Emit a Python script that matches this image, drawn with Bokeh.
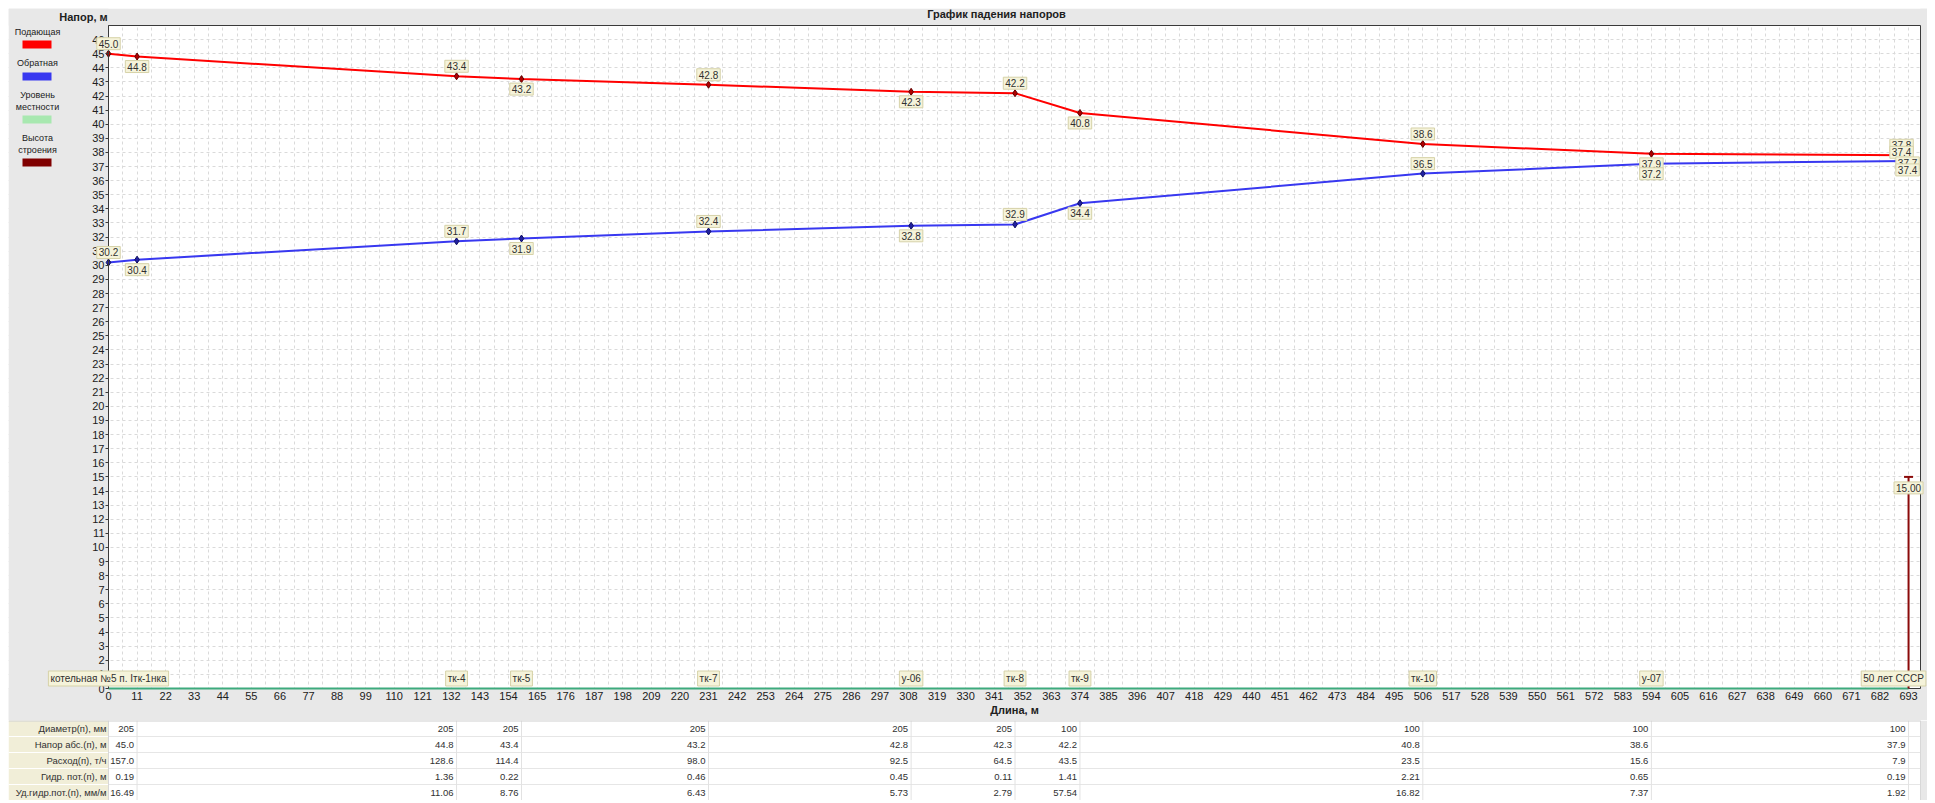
from bokeh.plotting import figure
from bokeh.models import Range1d, FixedTicker, Label, BoxAnnotation, Spacer
from bokeh.layouts import column, row
from bokeh.embed import file_html
from bokeh.resources import INLINE
from bokeh.core.properties import value

# ---------------- data ----------------
node_dist = [0, 11, 134, 159, 231, 309, 349, 374, 506, 594, 693]
node_names = ["котельная №5 п. Iтк-1нка", "", "тк-4", "тк-5", "тк-7", "у-06",
              "тк-8", "тк-9", "тк-10", "у-07", "50 лет СССР"]
supply_head = [45.0, 44.8, 43.4, 43.2, 42.8, 42.3, 42.2, 40.8, 38.6, 37.9, 37.8]
return_head = [30.2, 30.4, 31.7, 31.9, 32.4, 32.8, 32.9, 34.4, 36.5, 37.2, 37.4]
ground_level = [0.0, 0.0, 0.0, 0.0, 0.0, 0.0, 0.0, 0.0, 0.0, 0.0, 0.0]
supply_end_texts = ["37.8", "37.4"]
return_end_texts = ["37.7", "37.4"]
building_x = [693]
building_height = [15.0]

x_ticks = list(range(0, 694, 11))
y_ticks = list(range(0, 47))

table_rows = ["Диаметр(п), мм", "Напор абс.(п), м", "Расход(п), т/ч",
              "Гидр. пот.(п), м", "Уд.гидр.пот.(п), мм/м"]
seg_end = [11, 134, 159, 231, 309, 349, 374, 506, 594, 693]
diameter = [205, 205, 205, 205, 205, 205, 100, 100, 100, 100]
head_abs = [45.0, 44.8, 43.4, 43.2, 42.8, 42.3, 42.2, 40.8, 38.6, 37.9]
flow = [157.0, 128.6, 114.4, 98.0, 92.5, 64.5, 43.5, 23.5, 15.6, 7.9]
head_loss = [0.19, 1.36, 0.22, 0.46, 0.45, 0.11, 1.41, 2.21, 0.65, 0.19]
spec_loss = [16.49, 11.06, 8.76, 6.43, 5.73, 2.79, 57.54, 16.82, 7.37, 1.92]

# ---------------- style ----------------
FONT = "Liberation Sans"
BG = "#E8E8E8"
RED = "#FF0000"
BLUE = "#3838F0"
GREEN_LEG = "#A8E8B0"
GROUND = "#3DAA7D"
BUILD = "#8B0A0A"
BOX_FILL = "#F5F3DA"
BOX_LINE = "#D6D2A8"
TXT = "#303030"

# ---------------- geometry (page pixels) ----------------
x_end = 697.6
y_top = 47.0
plot_left_px, plot_right_px, plot_top_px, plot_bottom_px = 108, 1920, 25, 688
fig_left_px, fig_right_px, fig_top_px, fig_bottom_px = 8, 1927, 8, 720
px_per_m = (plot_right_px - plot_left_px) / x_end
x_min = -(plot_left_px - fig_left_px) / px_per_m
x_max = x_end + (fig_right_px - plot_right_px) / px_per_m
px_per_y = (plot_bottom_px - plot_top_px) / y_top
y_max = y_top + (plot_top_px - fig_top_px) / px_per_y
y_min = -(fig_bottom_px - plot_bottom_px) / px_per_y
fig_w = fig_right_px - fig_left_px
fig_h = fig_bottom_px - fig_top_px
table_h = 80

p = figure(width=fig_w, height=fig_h, x_range=Range1d(x_min, x_max), y_range=Range1d(y_min, y_max),
           output_backend="svg", toolbar_location=None,
           min_border_left=0, min_border_right=0, min_border_top=0, min_border_bottom=0)
p.background_fill_color = "white"
p.border_fill_color = BG
p.outline_line_color = None

p.xaxis.ticker = FixedTicker(ticks=x_ticks)
p.yaxis.ticker = FixedTicker(ticks=y_ticks)
p.yaxis.fixed_location = 0
p.xaxis.fixed_location = 0
p.yaxis.bounds = (0, y_top)
p.xaxis.bounds = (0, x_end)
for ax in (p.xaxis, p.yaxis):
    ax.minor_tick_line_color = None
    ax.major_label_text_font = FONT
    ax.major_label_text_font_size = "11px"
    ax.major_label_text_color = "#202020"
    ax.major_tick_line_color = "#3A3A3A"
    ax.major_tick_in = 0
p.xaxis.axis_line_color = None
p.yaxis.axis_line_color = "#3A3A3A"
p.xaxis.major_tick_out = 0
p.xaxis.major_label_standoff = 3
p.xaxis.axis_label = "Длина, м"
p.xaxis.axis_label_text_font = FONT
p.xaxis.axis_label_text_font_size = "11px"
p.xaxis.axis_label_text_font_style = "bold"
p.xaxis.axis_label_text_color = "#202020"
p.xaxis.axis_label_standoff = 1
p.yaxis.major_tick_out = 3
p.yaxis.major_label_standoff = 1

p.xgrid.ticker = FixedTicker(ticks=[i * 5.5 for i in range(0, 127)])
p.ygrid.ticker = FixedTicker(ticks=y_ticks)
p.grid.grid_line_color = "#DADADA"
p.grid.grid_line_dash = "3 3"
p.grid.grid_line_width = 1

# gray surroundings of the plot area (inside the frame)
p.quad(left=[x_min, x_min, x_end, x_min], right=[0, x_max, x_max, x_max],
       bottom=[y_min, y_top, y_min, y_min], top=[y_max, y_max, y_max, 0],
       fill_color=BG, line_color=None)
p.quad(left=[0], right=[x_end], bottom=[0], top=[y_top], fill_color=None,
       line_color="#3A3A3A", line_width=1)

# series
p.line(node_dist, ground_level, line_color=GROUND, line_width=2)
p.line(node_dist, supply_head, line_color=RED, line_width=2)
p.line(node_dist, return_head, line_color=BLUE, line_width=2)
p.scatter(node_dist, supply_head, marker="diamond", size=7, fill_color="#B00000", line_color="#600000")
p.scatter(node_dist, return_head, marker="diamond", size=7, fill_color="#2020A0", line_color="#101060")
p.segment(x0=building_x, y0=[0] * len(building_x), x1=building_x, y1=building_height,
          line_color=BUILD, line_width=2)
p.scatter(building_x, building_height, marker="dash", size=9, line_color=BUILD, line_width=2)


def box_label(x, y, text, xo=0, yo=0):
    p.add_layout(Label(x=x, y=y, text=text, x_offset=xo, y_offset=yo,
                       text_align="center", text_baseline="middle",
                       text_font=FONT, text_font_size="10px", text_color=TXT,
                       background_fill_color=BOX_FILL, background_fill_alpha=1.0,
                       border_line_color=BOX_LINE, padding=2))


n = len(node_dist)
for i in range(n - 1):
    off = 10 if i % 2 == 0 else -10
    box_label(node_dist[i], supply_head[i], f"{supply_head[i]:.1f}", 0, off)
    box_label(node_dist[i], return_head[i], f"{return_head[i]:.1f}", 0, off)
box_label(node_dist[-1], supply_head[-1], supply_end_texts[0], -7, 10)
box_label(node_dist[-1], supply_head[-1], supply_end_texts[1], -7, 3)
box_label(node_dist[-1], return_head[-1], return_end_texts[0], -1, -2)
box_label(node_dist[-1], return_head[-1], return_end_texts[1], -1, -9)

for i in range(n):
    if node_names[i]:
        xo = -15 if i == n - 1 else 0
        box_label(node_dist[i], ground_level[i], node_names[i], xo, 10)

for bx, bh in zip(building_x, building_height):
    box_label(bx, bh, f"{bh:.2f}", 0, -11)


# texts in the gray bands (screen units relative to the frame)
def sx(px):
    return px - fig_left_px


def sy(py):
    return fig_bottom_px - py


def plain_label(px, py, text, size="9px", bold=False, align="center"):
    p.add_layout(Label(x=sx(px), y=sy(py), x_units="screen", y_units="screen", text=text,
                       text_align=align, text_baseline="middle", text_font=FONT,
                       text_font_size=size, text_color="#202020",
                       text_font_style="bold" if bold else "normal"))


plain_label(996, 13, "График падения напоров", "11px", True)
plain_label(83, 16, "Напор, м", "11px", True)

legend_items = [
    (["Подающая"], [31], (40, 48), RED),
    (["Обратная"], [62], (72, 80), BLUE),
    (["Уровень", "местности"], [94, 106], (115, 123), GREEN_LEG),
    (["Высота", "строения"], [137, 149], (158, 166), "#800000"),
]
for texts, ys, (top_px, bot_px), col in legend_items:
    for tx, ty in zip(texts, ys):
        plain_label(37, ty, tx, "9px")
    p.add_layout(BoxAnnotation(left=sx(22), right=sx(51), top=sy(top_px), bottom=sy(bot_px),
                               left_units="screen", right_units="screen",
                               top_units="screen", bottom_units="screen",
                               fill_color=col, fill_alpha=1.0, line_color=None))

# ---------------- table ----------------
nrows = len(table_rows)
t = figure(width=fig_w, height=table_h, x_range=Range1d(x_min, x_max), y_range=Range1d(0, nrows),
           output_backend="svg", toolbar_location=None, x_axis_type=None, y_axis_type=None,
           min_border_left=0, min_border_right=0, min_border_top=0, min_border_bottom=0)
t.background_fill_color = "white"
t.border_fill_color = BG
t.outline_line_color = None
t.grid.visible = False

t.quad(left=[x_min], right=[0], bottom=[0], top=[nrows], fill_color="#F1EED8", line_color=None)
t.quad(left=[x_end], right=[x_max], bottom=[0], top=[nrows], fill_color=BG, line_color=None)
row_y = [nrows - 0.5 - i for i in range(nrows)]
t.segment(x0=[x_min] * (nrows - 1), y0=list(range(1, nrows)), x1=[0] * (nrows - 1),
          y1=list(range(1, nrows)), line_color="#FFFFFF", line_width=1)
t.segment(x0=[0] * (nrows - 1), y0=list(range(1, nrows)), x1=[x_end] * (nrows - 1),
          y1=list(range(1, nrows)), line_color="#E6E6E6", line_width=1)
t.segment(x0=seg_end, y0=[0] * len(seg_end), x1=seg_end, y1=[nrows] * len(seg_end),
          line_color="#E2E2E2", line_width=1)
t.segment(x0=[0, x_end], y0=[0, 0], x1=[0, x_end], y1=[nrows, nrows], line_color="#D8D8D8", line_width=1)
t.segment(x0=[x_min], y0=[nrows], x1=[x_end], y1=[nrows], line_color="#D0D0D0", line_width=2)

t.text(x=[0] * nrows, y=row_y, text=table_rows, x_offset=-2, text_align="right",
       text_baseline="middle", text_font=value(FONT), text_font_size="9.5px", text_color=TXT)

cols = [
    [str(v) for v in diameter],
    [f"{v:.1f}" for v in head_abs],
    [f"{v:.1f}" for v in flow],
    [f"{v:.2f}" for v in head_loss],
    [f"{v:.2f}" for v in spec_loss],
]
for r, vals in enumerate(cols):
    t.text(x=seg_end, y=[row_y[r]] * len(seg_end), text=vals, x_offset=-3, text_align="right",
           text_baseline="middle", text_font=value(FONT), text_font_size="9.5px", text_color=TXT)

layout = column(Spacer(width=fig_w + fig_left_px, height=fig_top_px),
                row(Spacer(width=fig_left_px, height=fig_h + table_h), column(p, t)))
open("out.html", "w").write(file_html(layout, INLINE))
